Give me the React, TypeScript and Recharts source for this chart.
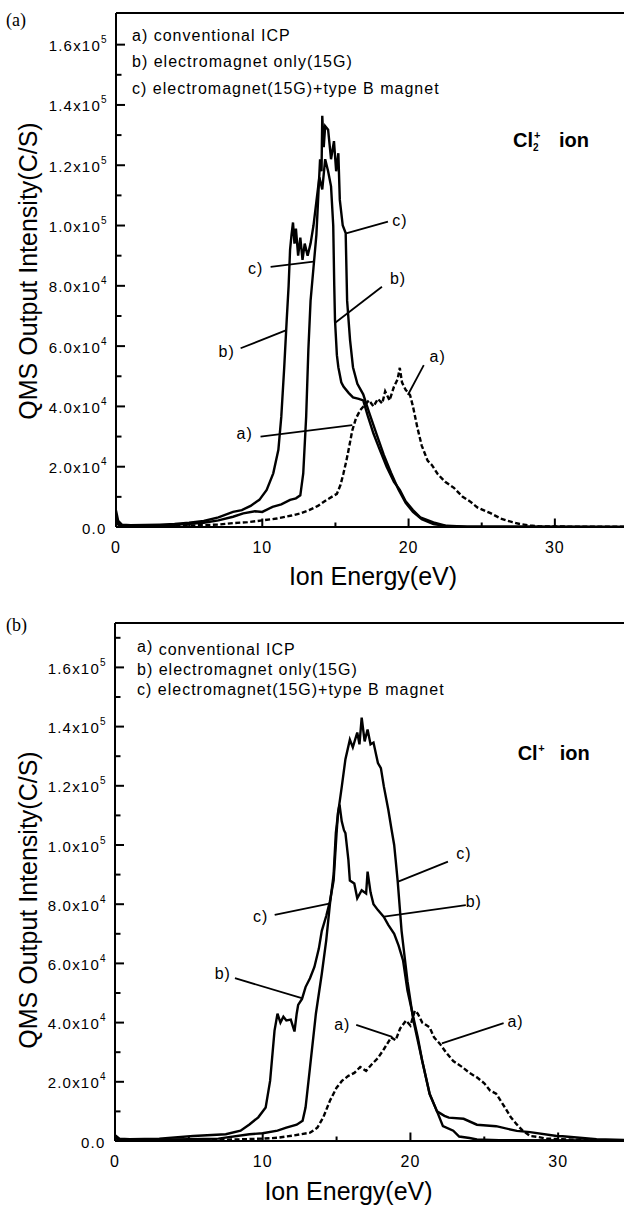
import { Legend, Line, LineChart, ReferenceDot, ReferenceLine, XAxis, YAxis } from 'recharts';

const SANS = '"Liberation Sans", Arial, Helvetica, sans-serif';
const SERIF = '"Liberation Serif", "Times New Roman", serif';

type Pt = [number, number];

// curve tags + legend text (same in both panels)
const curveTags = ['a)', 'b)', 'c)'];
const curveNames = ['conventional ICP', 'electromagnet only(15G)', 'electromagnet(15G)+type B magnet'];

// axis ticks: ion energy in eV, intensity in 10^3 C/S
const energyTicks = [0, 5, 10, 15, 20, 25, 30, 35];
const cl2Ticks = [0, 10, 20, 30, 40, 50, 60, 70, 80, 90, 100, 110, 120, 130, 140, 150, 160];
const clTicks = [0, 10, 20, 30, 40, 50, 60, 70, 80, 90, 100, 110, 120, 130, 140, 150, 160, 170];

// (a) Cl2+ ion  [eV, 10^3 C/S]
const cl2Conventional: Pt[] = [
  [0, 1.2], [0.3, 0.4], [2, 0.3], [4, 0.4], [6, 0.6], [7, 0.8], [8, 1.3], [9, 1.6], [10, 2.2], [11, 2.8],
  [12, 3.8], [12.6, 4.5], [13.2, 5.6], [13.8, 7], [14.4, 9], [15.1, 11], [15.35, 14], [15.55, 17.8], [15.75, 22],
  [15.9, 25.6], [16.15, 32], [16.4, 36], [16.7, 38.8], [17, 40.5], [17.3, 42], [17.6, 40], [17.9, 42.5], [18.2, 41],
  [18.4, 45], [18.7, 42], [19, 46.5], [19.25, 49], [19.4, 52.8], [19.55, 48], [19.8, 45.5], [20.1, 43.8], [20.3, 40],
  [20.6, 33], [20.9, 27], [21.3, 22], [21.6, 20.5], [22, 17.5], [22.5, 15], [23.1, 13], [23.7, 10], [24.2, 8.5],
  [24.7, 6.5], [25.6, 4.6], [26.3, 2.8], [27.1, 1.6], [27.6, 1], [28.3, 0.5], [29, 0.2], [32, 0.1], [35, 0.1],
];
const cl2Electro: Pt[] = [
  [0, 5.5], [0.15, 2], [0.4, 0.8], [1, 0.6], [2, 0.7], [3, 0.8], [4, 1], [5, 1.4], [6, 2], [7, 3.2], [8, 5],
  [8.6, 5.6], [9.2, 7], [9.6, 8.4], [9.8, 9], [10.3, 12.3], [10.75, 17.8], [11.1, 25.6], [11.3, 36.6], [11.5, 53],
  [11.67, 68.7], [11.8, 80], [11.9, 92], [12, 97], [12.1, 101], [12.2, 94], [12.3, 99], [12.45, 90], [12.6, 96],
  [12.75, 88.6], [12.9, 94], [13.1, 90], [13.3, 94], [13.5, 100], [13.7, 108], [13.9, 116], [14.1, 112], [14.3, 122],
  [14.5, 118], [14.7, 113], [14.85, 100], [14.92, 80], [14.97, 68.7], [15.1, 57], [15.2, 53], [15.4, 48],
  [15.55, 46.6], [15.9, 44.5], [16.2, 43], [16.6, 42.5], [16.9, 42], [17.2, 37], [17.6, 31], [18, 26], [18.5, 20],
  [19, 15], [19.4, 12.3], [19.8, 8.5], [20.3, 5.6], [20.8, 3.2], [21.7, 1.5], [22.6, 0.4], [24, 0.1], [35, 0.05],
];
const cl2ElectroB: Pt[] = [
  [0, 3], [0.15, 1.2], [0.4, 0.5], [1, 0.4], [2, 0.5], [4, 0.7], [6, 1.4], [7, 2.2], [8, 3.4], [8.7, 4.5],
  [9.5, 5.2], [10, 5], [10.7, 6.7], [11.3, 7.5], [11.9, 9], [12.3, 9.5], [12.6, 10.5], [12.8, 17.8], [13, 36.6],
  [13.15, 58.8], [13.3, 75], [13.5, 86], [13.7, 97], [13.85, 112], [13.95, 122], [14.05, 118], [14.1, 136.4],
  [14.2, 126], [14.3, 133], [14.5, 131.8], [14.7, 122], [14.9, 128], [15.05, 118], [15.2, 124], [15.3, 108.5],
  [15.5, 100], [15.7, 97.5], [15.8, 75], [16, 62], [16.2, 53], [16.5, 47.5], [16.9, 44], [17.3, 38], [17.8, 31],
  [18.3, 24], [18.8, 18], [19.3, 12.5], [19.8, 8], [20.3, 5], [20.9, 2.6], [21.7, 1], [22.6, 0.3], [24, 0.1], [35, 0.05],
];

// (b) Cl+ ion  [eV, 10^3 C/S]
const clConventional: Pt[] = [
  [0, 1], [0.3, 0.3], [3, 0.2], [6, 0.3], [8, 0.5], [10, 0.8], [11, 1.1], [12, 1.8], [13.2, 2.8], [13.7, 4.5],
  [14.1, 8], [14.55, 13.6], [15, 18], [15.36, 20.3], [15.8, 22], [16.2, 23], [16.6, 25], [17, 23.7], [17.4, 26],
  [17.8, 28], [18.2, 31], [18.7, 35], [19, 34], [19.3, 38], [19.7, 40.7], [20, 39], [20.3, 44], [20.5, 43],
  [20.8, 40], [21.3, 38.4], [21.6, 35], [22, 32.8], [22.4, 30], [22.9, 27], [23.5, 25], [24, 23], [24.5, 21.5],
  [25, 19.5], [25.4, 17], [25.8, 16], [26.4, 11.3], [26.8, 8], [27.2, 5.6], [27.6, 3.5], [28.1, 1.7], [28.6, 1.4],
  [29.2, 0.8], [30.3, 0.6], [32, 0.3], [35, 0.2],
];
const clElectro: Pt[] = [
  [0, 2], [0.3, 0.8], [1, 0.6], [3, 0.8], [5.3, 1.7], [7.5, 2.3], [8.5, 3.5], [9.1, 5.6], [9.7, 8], [10.2, 11.3],
  [10.5, 20.3], [10.8, 37.3], [11, 43], [11.2, 40], [11.4, 42], [11.6, 40.7], [11.9, 41], [12.15, 37], [12.3, 43],
  [12.4, 46], [12.66, 48], [12.9, 52], [13.2, 55], [13.5, 58.8], [13.8, 65], [14, 71], [14.3, 76], [14.55, 81],
  [14.8, 88], [14.9, 96], [15, 104], [15.1, 111], [15.2, 113.6], [15.35, 108], [15.5, 105], [15.6, 104], [15.8, 95],
  [15.9, 88], [16.2, 87], [16.4, 82], [16.7, 84.7], [17, 83.6], [17.1, 91], [17.3, 84], [17.5, 80], [17.8, 78],
  [18.2, 75.7], [18.5, 73], [18.9, 70], [19.2, 66], [19.5, 61], [19.8, 50.8], [20.1, 44], [20.5, 35], [20.8, 27],
  [21.3, 16], [21.8, 10], [22.3, 8.5], [22.6, 7.9], [23.6, 7.5], [24.5, 5.5], [25.8, 5], [27.2, 3.4], [28.1, 3],
  [29.9, 1.7], [30.3, 1.6], [32.6, 0.6], [35, 0.3],
];
const clElectroB: Pt[] = [
  [0, 1.5], [0.3, 0.5], [2, 0.4], [5, 0.6], [7, 0.8], [9.1, 2.3], [10, 2.6], [11, 3.5], [11.6, 4.5], [12.3, 5.5],
  [12.7, 6.8], [12.9, 11.3], [13.2, 24.8], [13.6, 43], [14, 56.5], [14.3, 67.8], [14.55, 80], [14.8, 90],
  [14.95, 104], [15.1, 110.7], [15.36, 120], [15.6, 129], [15.9, 135.6], [16.1, 133], [16.4, 138], [16.55, 134],
  [16.7, 143], [16.9, 135], [17.1, 139], [17.3, 134], [17.5, 134.6], [17.7, 130], [17.8, 127.7], [18, 126],
  [18.2, 119.8], [18.5, 112], [18.73, 105], [18.9, 100], [19, 95], [19.14, 87.6], [19.4, 71], [19.8, 54],
  [20.2, 40.7], [20.8, 27], [21.3, 15.8], [21.8, 10], [22.2, 5], [22.9, 3.5], [23.3, 1.5], [24, 1], [24.5, 0.5],
  [26, 0.3], [35, 0.2],
];

// curve call-outs: tag text position, leader line from -> to (data coords)
type Note = { tag: string; at: Pt; from: Pt; to: Pt };
const cl2Notes: Note[] = [
  { tag: 'c)', at: [9.55, 85.8], from: [10.57, 86.3], to: [13.5, 88] },
  { tag: 'c)', at: [19.41, 101.8], from: [18.59, 101.3], to: [15.73, 97.4] },
  { tag: 'b)', at: [19.28, 82.5], from: [18.18, 79.7], to: [14.94, 67.6] },
  { tag: 'b)', at: [7.57, 58.1], from: [8.52, 59.3], to: [11.65, 65.3] },
  { tag: 'a)', at: [8.8, 31.1], from: [9.88, 30], to: [16.15, 33.8] },
  { tag: 'a)', at: [21.99, 56.5], from: [21.04, 53.7], to: [19.95, 43.8] },
];
const clNotes: Note[] = [
  { tag: 'c)', at: [23.62, 97.2], from: [22.54, 94.4], to: [19.17, 87.6] },
  { tag: 'b)', at: [24.29, 80.8], from: [23.75, 79.7], to: [18.22, 75.8] },
  { tag: 'c)', at: [9.86, 75.8], from: [10.81, 76.4], to: [14.59, 80.3] },
  { tag: 'b)', at: [7.3, 56.7], from: [8.12, 55], to: [12.7, 48.2] },
  { tag: 'a)', at: [15.39, 39.2], from: [16.33, 39.2], to: [18.77, 35.2] },
  { tag: 'a)', at: [27.12, 40.3], from: [26.31, 39.8], to: [22.13, 33] },
];

const toRows = (pts: Pt[]) => pts.map(([e, v]) => ({ e, v }));

function sciParts(k: number) {
  if (k === 0) return { base: '0.0', exp: '' };
  const v = k * 1000;
  const exp = Math.floor(Math.log10(v) + 1e-9);
  return { base: `${(v / 10 ** exp).toFixed(1)}x10`, exp: String(exp) };
}

function CountTick(props: any) {
  const { x, y, payload } = props;
  const major = payload.value % 20 === 0;
  const { base, exp } = sciParts(payload.value);
  return (
    <g>
      <line x1={x} x2={x + (major ? 9 : 5.5)} y1={y} y2={y} stroke="#000" strokeWidth={2} />
      {major && (
        <text x={x - 9.5} y={y + 6.5} textAnchor="end" fontFamily={SANS} fontSize={15} letterSpacing={1.2} fill="#000">
          {base}
          {exp && (
            <tspan dy={-8} fontSize={10} letterSpacing={0}>
              {exp}
            </tspan>
          )}
        </text>
      )}
    </g>
  );
}

function EnergyTick(props: any) {
  const { x, y, payload } = props;
  const major = payload.value % 10 === 0;
  return (
    <g>
      <line x1={x} x2={x} y1={y} y2={y - (major ? 8.5 : 4.5)} stroke="#000" strokeWidth={2} />
      {major && (
        <text x={x} y={y + 25.5} textAnchor="middle" fontFamily={SANS} fontSize={16} letterSpacing={1} fill="#000">
          {payload.value}
        </text>
      )}
    </g>
  );
}

interface PanelProps {
  top: number;
  height: number;
  marginTop: number;
  yAxisWidth: number;
  xAxisHeight: number;
  rightMargin: number;
  yMax: number;
  yTicks: number[];
  curves: Pt[][];
  notes: Note[];
  ion: { at: Pt; sub: boolean; plusDx: number; ionDx: number; size: number };
  legendLeft: number;
  legendTop: number;
  legendGap: number;
  tagRaise: number;
  yTitleShift: number;
  xTitleShift: number;
  xTitleBase: number;
  caption: string;
  captionTop: number;
}

function Panel(p: PanelProps) {
  const width = 660;
  const renderLegend = (lp: any) => (
    <div
      style={{
        fontFamily: SANS,
        fontSize: 16,
        letterSpacing: 1,
        color: '#000',
        lineHeight: `${p.legendGap}px`,
        whiteSpace: 'nowrap',
        textAlign: 'left',
      }}
    >
      {(lp.payload || []).map((entry: any, i: number) => (
        <div key={i}>
          <span style={{ position: 'relative', top: i === 0 ? -p.tagRaise : 0 }}>{curveTags[i]}</span> {entry.value}
        </div>
      ))}
    </div>
  );

  return (
    <div style={{ position: 'absolute', left: 0, top: p.top, width, height: p.height }}>
      <div style={{ position: 'absolute', left: 6, top: p.captionTop, fontFamily: SERIF, fontSize: 18, lineHeight: 1 }}>
        {p.caption}
      </div>
      <LineChart width={width} height={p.height} margin={{ top: p.marginTop, right: p.rightMargin, left: 0, bottom: 0 }}>
        <XAxis
          type="number"
          dataKey="e"
          domain={[0, 35]}
          ticks={energyTicks}
          interval={0}
          allowDataOverflow
          height={p.xAxisHeight}
          axisLine={{ stroke: '#000', strokeWidth: 2 }}
          tickLine={false}
          tickSize={0}
          tickMargin={0}
          tick={(tp: any) => <EnergyTick {...tp} />}
          label={{
            content: (lp: any) => {
              const vb = lp.viewBox;
              return (
                <text
                  x={vb.x + vb.width / 2 + p.xTitleShift}
                  y={vb.y + p.xTitleBase}
                  textAnchor="middle"
                  fontFamily={SANS}
                  fontSize={25}
                  fill="#000"
                >
                  Ion Energy(eV)
                </text>
              );
            },
          }}
        />
        <YAxis
          type="number"
          domain={[0, p.yMax]}
          ticks={p.yTicks}
          interval={0}
          allowDataOverflow
          width={p.yAxisWidth}
          axisLine={{ stroke: '#000', strokeWidth: 2 }}
          tickLine={false}
          tickSize={0}
          tickMargin={0}
          tick={(tp: any) => <CountTick {...tp} />}
          label={{
            content: (lp: any) => {
              const vb = lp.viewBox;
              const cx = vb.x + 28;
              const cy = vb.y + vb.height / 2 + p.yTitleShift;
              return (
                <text
                  x={cx}
                  y={cy}
                  transform={`rotate(-90 ${cx} ${cy})`}
                  textAnchor="middle"
                  dominantBaseline="central"
                  fontFamily={SANS}
                  fontSize={25}
                  fill="#000"
                >
                  QMS Output Intensity(C/S)
                </text>
              );
            },
          }}
        />
        <ReferenceLine y={p.yMax} stroke="#000" strokeWidth={2} />
        <ReferenceLine x={35} stroke="#000" strokeWidth={2} />
        {p.curves.map((c, i) => (
          <Line
            key={i}
            data={toRows(c)}
            dataKey="v"
            name={curveNames[i]}
            type="linear"
            stroke="#000"
            strokeWidth={2.4}
            strokeDasharray={i === 0 ? '5 2.5' : undefined}
            dot={false}
            activeDot={false}
            isAnimationActive={false}
          />
        ))}
        {p.notes.map((n, i) => (
          <ReferenceLine
            key={`l${i}`}
            segment={[
              { x: n.from[0], y: n.from[1] },
              { x: n.to[0], y: n.to[1] },
            ]}
            stroke="#000"
            strokeWidth={1.8}
          />
        ))}
        {p.notes.map((n, i) => (
          <ReferenceDot
            key={`t${i}`}
            x={n.at[0]}
            y={n.at[1]}
            r={0}
            fill="none"
            stroke="none"
            label={{
              content: (lp: any) => (
                <text
                  x={lp.viewBox.x}
                  y={lp.viewBox.y}
                  textAnchor="middle"
                  dominantBaseline="central"
                  fontFamily={SANS}
                  fontSize={16}
                  letterSpacing={1}
                  fill="#000"
                >
                  {n.tag}
                </text>
              ),
            }}
          />
        ))}
        <ReferenceDot
          x={p.ion.at[0]}
          y={p.ion.at[1]}
          r={0}
          fill="none"
          stroke="none"
          label={{
            content: (lp: any) => {
              const x0 = lp.viewBox.x;
              const y0 = lp.viewBox.y;
              return (
                <g fontFamily={SANS} fontWeight="bold" fill="#000">
                  <text x={x0} y={y0} fontSize={p.ion.size}>
                    Cl
                  </text>
                  {p.ion.sub && (
                    <text x={x0 + 20} y={y0 + 4} fontSize={10}>
                      2
                    </text>
                  )}
                  <text x={x0 + p.ion.plusDx} y={y0 - 8} fontSize={11}>
                    +
                  </text>
                  <text x={x0 + p.ion.ionDx} y={y0} fontSize={p.ion.size}>
                    ion
                  </text>
                </g>
              );
            },
          }}
        />
        <Legend
          layout="vertical"
          align="center"
          verticalAlign="middle"
          content={renderLegend}
          wrapperStyle={{ left: p.legendLeft, top: p.legendTop, width: 'auto', height: 'auto' }}
        />
      </LineChart>
    </div>
  );
}

export default function App() {
  return (
    <div style={{ position: 'absolute', left: 0, top: 0, width: 624, height: 1207, overflow: 'hidden', background: '#fff' }}>
      <Panel
        top={0}
        height={600}
        marginTop={13}
        yAxisWidth={116}
        xAxisHeight={73}
        rightMargin={32}
        yMax={170.5}
        yTicks={cl2Ticks}
        curves={[cl2Conventional, cl2Electro, cl2ElectroB]}
        notes={cl2Notes}
        ion={{ at: [27.14, 126.1], sub: true, plusDx: 21, ionDx: 46, size: 20 }}
        legendLeft={132}
        legendTop={22.7}
        legendGap={26.7}
        tagRaise={0}
        yTitleShift={1}
        xTitleShift={1}
        xTitleBase={57.5}
        caption="(a)"
        captionTop={10.5}
      />
      <Panel
        top={600}
        height={607}
        marginTop={23}
        yAxisWidth={115}
        xAxisHeight={66}
        rightMargin={28}
        yMax={175}
        yTicks={clTicks}
        curves={[clConventional, clElectro, clElectroB]}
        notes={clNotes}
        ion={{ at: [27.26, 128.7], sub: false, plusDx: 20.5, ionDx: 42, size: 20 }}
        legendLeft={137}
        legendTop={39.8}
        legendGap={20.3}
        tagRaise={3}
        yTitleShift={18}
        xTitleShift={-25}
        xTitleBase={58.5}
        caption="(b)"
        captionTop={15.5}
      />
    </div>
  );
}
